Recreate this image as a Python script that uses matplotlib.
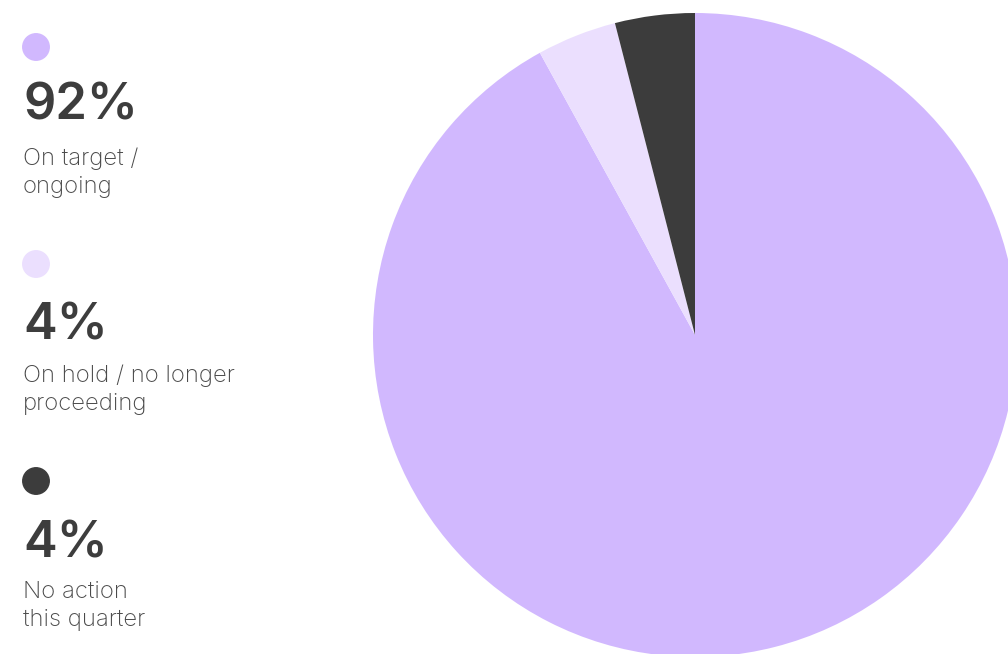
import matplotlib.pyplot as plt
from matplotlib.patches import Ellipse

plt.rcParams['font.family'] = ['Inter', 'DejaVu Sans']

# data
labels = ['On target /\nongoing', 'On hold / no longer\nproceeding', 'No action\nthis quarter']
shares = [92, 4, 4]
colors = ['#D1B8FE', '#EBDFFE', '#3C3C3C']
text_color = '#3D3D3D'

W, H = 1008, 654
fig = plt.figure(figsize=(W / 100, H / 100), dpi=100)

# pie axes, square in pixels, slightly clipped by the figure edges
cx, cy, r = 695, 335, 322
ax = fig.add_axes([(cx - r) / W, (H - cy - r) / H, 2 * r / W, 2 * r / H])
ax.pie(shares, colors=colors, startangle=90, counterclock=False,
       radius=1, wedgeprops=dict(linewidth=0))
ax.set_xlim(-1, 1)
ax.set_ylim(-1, 1)
ax.axis('off')

# legend on the left, positions in pixels from top-left
dot_y = [47, 264, 481]
num_base = [120, 340, 557]
lab_base = [165, 382, 598]
for i in range(len(shares)):
    fig.patches.append(Ellipse((36 / W, 1 - dot_y[i] / H), 26.5 / W, 26.5 / H,
                               transform=fig.transFigure, color=colors[i]))
    fig.text(23 / W, 1 - num_base[i] / H, '%d%%' % shares[i], fontsize=36.5,
             fontweight='semibold', color=text_color, va='baseline', ha='left')
    for j, line in enumerate(labels[i].split('\n')):
        fig.text(23 / W, 1 - (lab_base[i] + 28 * j) / H, line, fontsize=17.2,
                 fontweight='light', color='#4A4A4A', va='baseline', ha='left')

fig.savefig('out.png', dpi=100)
